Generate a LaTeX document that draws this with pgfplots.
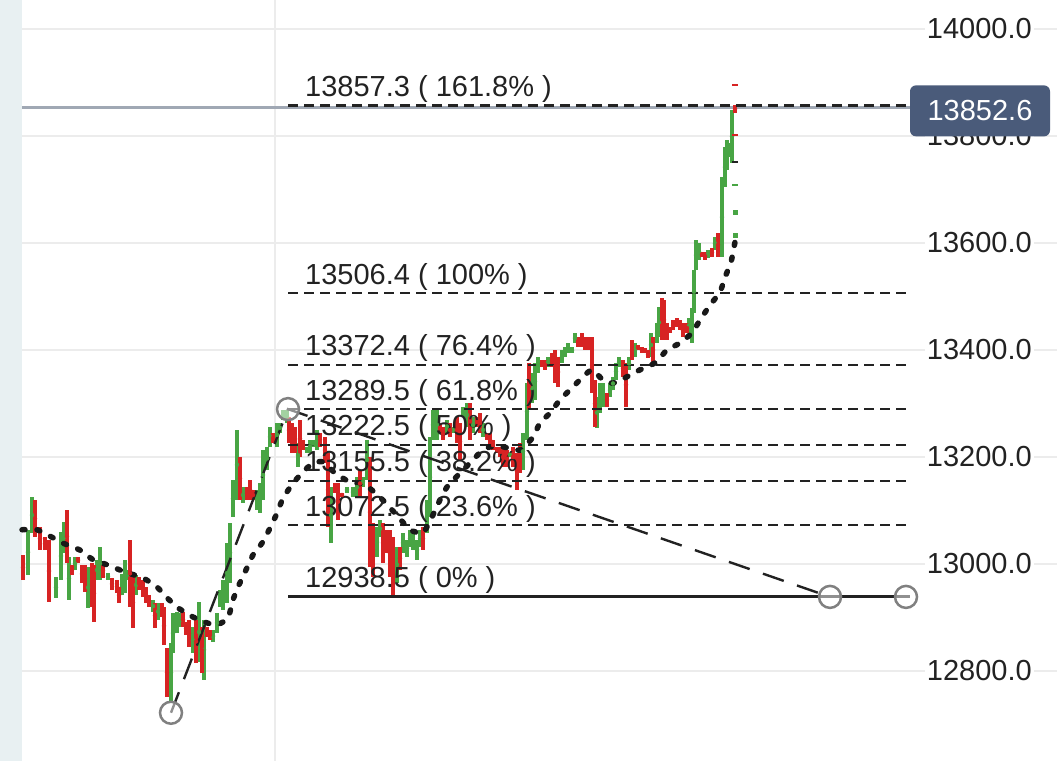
\documentclass[border=0pt]{standalone}
\usepackage{pgfplots}
\pgfplotsset{compat=1.18}
\usepackage{pgfplotstable}
\usepackage{fontspec}
\setmainfont{Liberation Sans}
\definecolor{cgreen}{RGB}{72,165,68}
\definecolor{cred}{RGB}{215,35,35}
\definecolor{gridgray}{RGB}{236,236,236}
\definecolor{stripcol}{RGB}{232,240,242}
\definecolor{pricegray}{RGB}{160,168,180}
\definecolor{circgray}{RGB}{128,128,128}
\definecolor{boxcol}{RGB}{74,91,122}
\definecolor{labcol}{RGB}{34,34,34}
\newcommand{\bigfont}{\fontsize{29}{35}\selectfont}

\pgfplotstableread{
x lo hi
28 12980 13064
32 13058 13125
56 12937 12976
61 12970 13060
64 13021 13079
69 12933 13013
75 12989 13013
88 12918 12994
97 12970 13008
100 12970 13032
108 12970 12984
122 12942 12982
125 12946 13008
127 12970 12989
136 12942 12980
153 12910 12933
158 12896 12927
171 12742 12852
173 12833 12909
177 12871 12910
180 12882 12909
193 12833 12882
199 12817 12929
204 12783 12896
213 12854 12877
217 12871 12909
220 12920 12952
223 12914 12970
227 12927 13039
230 12965 13077
233 13088 13157
237 13120 13251
243 13114 13144
257 13101 13138
260 13095 13151
263 13120 13213
267 13176 13219
270 13219 13256
277 13219 13264
280 13245 13264
283 13269 13288
287 13264 13288
298 13181 13226
307 13208 13219
310 13208 13232
313 13219 13232
317 13213 13251
331 13039 13144
347 13133 13144
353 13125 13144
357 13125 13163
363 13144 13163
367 13157 13232
377 13013 13069
380 13050 13082
397 12965 13032
403 13021 13058
407 13013 13045
410 13032 13064
413 13026 13058
417 13008 13045
420 13032 13064
427 13058 13120
430 13088 13237
433 13232 13288
437 13232 13288
447 13245 13269
453 13245 13256
463 13275 13294
467 13256 13301
473 13245 13275
483 13237 13264
510 13200 13208
523 13176 13245
527 13232 13338
532 13301 13357
535 13307 13376
538 13357 13387
548 13368 13387
562 13376 13400
565 13387 13405
568 13394 13413
572 13394 13405
575 13413 13432
597 13254 13312
600 13282 13338
603 13294 13338
610 13312 13338
613 13325 13350
616 13344 13376
619 13368 13387
629 13363 13387
635 13387 13413
651 13387 13432
657 13413 13450
659 13424 13480
689 13432 13460
692 13413 13478
694 13469 13549
696 13549 13606
699 13568 13600
708 13572 13587
715 13587 13611
722 13574 13723
725 13705 13779
727 13736 13792
730 13761 13787
732 13750 13849
}\greenbars

\pgfplotstableread{
x lo hi
23 12970 13017
35 13050 13120
40 13026 13069
45 13026 13050
49 12929 13045
67 13002 13101
72 12980 12998
78 13002 13013
82 12965 12998
85 12948 12998
92 12920 13002
94 12892 12998
103 12974 13002
112 12952 12974
117 12946 12970
119 12927 12957
130 12920 13045
133 12880 12976
139 12952 12976
143 12938 12970
146 12927 12957
149 12920 12942
155 12880 12927
162 12901 12927
164 12849 12920
167 12752 12843
183 12882 12910
186 12867 12892
189 12845 12896
196 12815 12896
202 12796 12882
207 12864 12882
210 12858 12877
240 13120 13200
247 13120 13144
250 13120 13157
253 13120 13138
273 13226 13245
289 13226 13275
292 13208 13264
295 13208 13256
300 13200 13269
303 13213 13232
320 13219 13245
325 13189 13237
328 13069 13208
335 13133 13151
338 13082 13151
342 13125 13133
360 13125 13176
370 12994 13200
373 12976 13077
383 13002 13077
387 13021 13064
390 12976 13064
393 12942 13050
400 12989 13032
423 13026 13069
440 13245 13264
443 13232 13256
450 13237 13264
457 13226 13275
460 13194 13264
470 13232 13301
477 13256 13275
480 13245 13282
487 13232 13245
490 13219 13245
493 13213 13232
497 13208 13219
500 13200 13219
503 13181 13219
507 13181 13213
513 13181 13219
517 13138 13208
520 13170 13226
529 13288 13376
542 13368 13381
545 13363 13381
552 13368 13394
555 13338 13400
558 13331 13387
578 13405 13424
582 13405 13432
585 13400 13424
588 13400 13424
592 13320 13424
595 13256 13344
607 13294 13320
623 13350 13381
626 13294 13376
632 13381 13419
638 13400 13409
642 13394 13405
645 13394 13403
648 13385 13400
653 13376 13424
662 13419 13497
664 13419 13494
667 13419 13450
670 13432 13443
673 13437 13456
677 13443 13460
680 13437 13456
683 13424 13450
687 13432 13450
702 13574 13583
705 13568 13583
712 13574 13591
718 13574 13619
735 13843 13858
}\redbars

\pgfplotstableread{
x y
22 13064
37 13064
52 13050
63 13039
80 13026
93 13008
108 12998
125 12985
143 12974
157 12957
167 12937
178 12918
193 12901
207 12890
217 12886
228 12899
233 12933
238 12957
245 12985
253 13017
262 13039
270 13067
277 13095
283 13123
293 13151
303 13172
313 13189
323 13191
335 13170
350 13153
365 13148
380 13125
395 13095
410 13064
423 13058
432 13088
440 13120
447 13144
460 13170
470 13189
480 13208
490 13219
503 13219
520 13213
533 13237
540 13264
550 13282
560 13307
573 13331
583 13350
592 13363
603 13344
613 13338
625 13348
640 13363
655 13376
667 13400
680 13413
692 13432
700 13456
710 13484
720 13508
725 13536
731 13564
735 13602
}\maline

\begin{document}
\begin{tikzpicture}
\begin{axis}[
  at={(0,0)}, anchor=south west,
  width=1057pt, height=761pt, scale only axis,
  xmin=0, xmax=1057, ymin=12631.8, ymax=14054.2,
  axis line style={draw=none},
  major tick length=0pt,
  scaled y ticks=false, scaled x ticks=false,
  xtick={275}, xticklabels={},
  ytick={12800,13000,13200,13400,13600,13800,14000},
  yticklabels={12800.0,13000.0,13200.0,13400.0,13600.0,13800.0,14000.0},
  yticklabel pos=right,
  yticklabel style={anchor=east, xshift=-23pt, fill=white, inner sep=2pt, text=labcol, font=\bigfont},
  xmajorgrids, ymajorgrids,
  major grid style={draw=gridgray, line width=2.5pt},
]
\fill[stripcol] (axis cs:0,12631.8) rectangle (axis cs:22,14054.2);

% price line
\addplot[pricegray, line width=3pt] coordinates {(22,13852.6) (910,13852.6)};

% candles
\addplot[cgreen, only marks, mark=none,
  error bars/.cd, y dir=both, y explicit, error mark=none,
  error bar style={draw=cgreen, line width=3.4pt}]
  table[x=x, y expr={(\thisrow{lo}+\thisrow{hi})/2}, y error expr={(\thisrow{hi}-\thisrow{lo})/2}] {\greenbars};
\addplot[cred, only marks, mark=none,
  error bars/.cd, y dir=both, y explicit, error mark=none,
  error bar style={draw=cred, line width=3.4pt}]
  table[x=x, y expr={(\thisrow{lo}+\thisrow{hi})/2}, y error expr={(\thisrow{hi}-\thisrow{lo})/2}] {\redbars};

% small projected ticks
\addplot[only marks, mark=-, mark size=3pt, mark options={draw=cred, line width=2pt}] coordinates {(735,13895) (735,13802)};
\addplot[only marks, mark=-, mark size=3pt, mark options={draw=labcol, line width=2pt}] coordinates {(735,13751)};
\addplot[only marks, mark=-, mark size=3pt, mark options={draw=cgreen, line width=2pt}] coordinates {(735,13708)};
\addplot[only marks, mark=square*, mark size=2.2pt, mark options={draw=cgreen, fill=cgreen}] coordinates {(735,13658) (735,13615)};

% fib levels
\addplot[labcol, line width=2.4pt, dash pattern=on 10pt off 6pt] coordinates {(288,13857.3) (910,13857.3)};
\addplot[labcol, line width=2.4pt, dash pattern=on 10pt off 6pt] coordinates {(288,13506.4) (910,13506.4)};
\addplot[labcol, line width=2.4pt, dash pattern=on 10pt off 6pt] coordinates {(288,13372.4) (910,13372.4)};
\addplot[labcol, line width=2.4pt, dash pattern=on 10pt off 6pt] coordinates {(288,13289.5) (910,13289.5)};
\addplot[labcol, line width=2.4pt, dash pattern=on 10pt off 6pt] coordinates {(288,13222.5) (910,13222.5)};
\addplot[labcol, line width=2.4pt, dash pattern=on 10pt off 6pt] coordinates {(288,13155.5) (910,13155.5)};
\addplot[labcol, line width=2.4pt, dash pattern=on 10pt off 6pt] coordinates {(288,13072.5) (910,13072.5)};
\addplot[labcol, line width=3pt] coordinates {(288,12938.5) (910,12938.5)};

% moving average (dotted)
\addplot[black!90, line width=5.5pt, line cap=round, dash pattern=on 3pt off 12pt, smooth, tension=0.3] table[x=x,y=y] {\maline};

% swing connectors
\addplot[labcol, line width=2.4pt, dash pattern=on 22pt off 14pt] coordinates {(171,12722) (288,13289.5) (830,12938.5)};

% circles
\addplot[only marks, mark=*, mark size=11pt, mark options={draw=circgray, line width=2.5pt, fill=white, fill opacity=0.5}] coordinates {(171,12722) (288,13289.5) (830,12938.5) (906,12938.5)};

% labels
\node[anchor=base west, yshift=9pt, inner sep=0pt, font=\bigfont, text=labcol] at (axis cs:305,13857.3) {13857.3 ( 161.8\% )};
\node[anchor=base west, yshift=9pt, inner sep=0pt, font=\bigfont, text=labcol] at (axis cs:305,13506.4) {13506.4 ( 100\% )};
\node[anchor=base west, yshift=9pt, inner sep=0pt, font=\bigfont, text=labcol] at (axis cs:305,13372.4) {13372.4 ( 76.4\% )};
\node[anchor=base west, yshift=9pt, inner sep=0pt, font=\bigfont, text=labcol] at (axis cs:305,13289.5) {13289.5 ( 61.8\% )};
\node[anchor=base west, yshift=9pt, inner sep=0pt, font=\bigfont, text=labcol] at (axis cs:305,13222.5) {13222.5 ( 50\% )};
\node[anchor=base west, yshift=9pt, inner sep=0pt, font=\bigfont, text=labcol] at (axis cs:305,13155.5) {13155.5 ( 38.2\% )};
\node[anchor=base west, yshift=9pt, inner sep=0pt, font=\bigfont, text=labcol] at (axis cs:305,13072.5) {13072.5 ( 23.6\% )};
\node[anchor=base west, yshift=9pt, inner sep=0pt, font=\bigfont, text=labcol] at (axis cs:305,12938.5) {12938.5 ( 0\% )};

\coordinate (pbox) at (axis cs:980,13852.6);
\end{axis}
\node[fill=boxcol, rounded corners=6pt, text=white, font=\bigfont, minimum width=140pt, minimum height=51pt, inner sep=0pt, yshift=-3pt] at (pbox) {13852.6};
\pgfresetboundingbox
\useasboundingbox (current axis.south west) rectangle (current axis.north east);
\end{tikzpicture}
\end{document}
